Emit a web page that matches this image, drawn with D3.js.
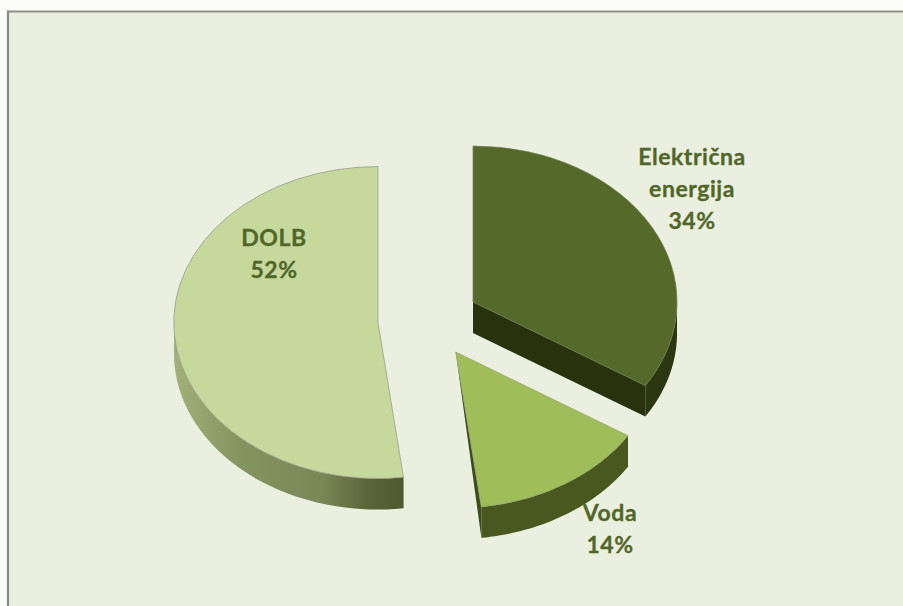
<!DOCTYPE html>
<html>
<head>
<meta charset="utf-8">
<script src="https://cdn.jsdelivr.net/npm/d3@7"></script>
<style>
  html, body { margin: 0; padding: 0; background: #fcfcf8; }
  svg { display: block; }
  text { font-family: Lato, "Open Sans", sans-serif; font-weight: 700; }
</style>
</head>
<body>
<svg id="chart" width="903" height="606"></svg>
<script>
// Energy sources, share of the total in percent
const categories = ["Električna energija", "Voda", "DOLB"];
const shares = [34, 14, 52];
const labelLines = [["Električna", "energija", "34%"], ["Voda", "14%"], ["DOLB", "52%"]];
const topColors = ["#55692a", "#9fbe5a", "#c6d89c"];
const edgeColors = ["#6b7a4e", "#8f9f6a", "#8f9689"];
const wallColors = ["#2b3710", "#48581f", "#5a6438"];
const labelAnchors = [[692, 159], [610, 515], [274, 240]];

const svg = d3.select("#chart");
const W = 903, H = 606;
const cx = 428.6, cy = 320.2;     // pie centre before the slices are pulled apart
const rx = 204, ry = 156;         // tilted pie: circle squashed to an ellipse
const depth = 31;                 // thickness of the disc
const pull = 50.7, pullTilt = 0.745;

// Panel fill, with a frame whose top and left edges fall inside the page
svg.append("rect").attr("x", 8).attr("y", 11.5).attr("width", W - 8).attr("height", H - 11.5)
  .attr("fill", "#ebefdf");
svg.append("line").attr("x1", 7).attr("x2", W).attr("y1", 11.5).attr("y2", 11.5)
  .attr("stroke", "#8d8f88").attr("stroke-width", 2.2);
svg.append("line").attr("x1", 8).attr("x2", 8).attr("y1", 10.5).attr("y2", H)
  .attr("stroke", "#888a86").attr("stroke-width", 2.2);

const defs = svg.append("defs");
// Wall shading runs in the slice's own coordinates, left rim to closing edge
const wallGrad = defs.append("linearGradient").attr("id", "dolbWall")
  .attr("gradientUnits", "userSpaceOnUse").attr("x1", -rx).attr("x2", 24).attr("y1", 0).attr("y2", 0);
wallGrad.append("stop").attr("offset", 0).attr("stop-color", "#a2b07a");
wallGrad.append("stop").attr("offset", 0.3).attr("stop-color", "#84945f");
wallGrad.append("stop").attr("offset", 0.65).attr("stop-color", "#7a8757");
wallGrad.append("stop").attr("offset", 0.85).attr("stop-color", "#5b6539");
wallGrad.append("stop").attr("offset", 1).attr("stop-color", "#505a30");

const pie = d3.pie().sort(null).value(d => d);
const slices = pie(shares);

// Angle measured clockwise from 12 o'clock; x,y on the tilted ellipse
const sx = a => rx * Math.sin(a);
const sy = a => -ry * Math.cos(a);
const offset = s => {
  const m = (s.startAngle + s.endAngle) / 2;
  return [cx + pull * Math.sin(m), cy - pull * pullTilt * Math.cos(m)];
};

// Outer wall between two angles, traced along the rim with a sampled curve
const line = d3.line();
function rimWall(a0, a1) {
  const n = 40;
  const top = d3.range(n + 1).map(i => {
    const a = a0 + (a1 - a0) * i / n;
    return [sx(a), sy(a)];
  });
  const bottom = top.slice().reverse().map(p => [p[0], p[1] + depth]);
  return line(top.concat(bottom)) + "Z";
}

const order = [2, 0, 1];
const layer = svg.selectAll("g.slice").data(order.map(i => ({ s: slices[i], i }))).join("g")
  .attr("class", "slice")
  .attr("transform", d => `translate(${offset(d.s)})`);

layer.each(function ({ s, i }) {
  const g = d3.select(this);
  const wall = i === 2 ? "url(#dolbWall)" : wallColors[i];
  const a0 = Math.max(s.startAngle, Math.PI / 2);
  const a1 = Math.min(s.endAngle, Math.PI * 1.5);
  const ex = sx(s.endAngle), ey = sy(s.endAngle);

  // Cut face on the closing radius, for slices that turn toward the viewer
  if (i === 0) {
    g.append("path").attr("fill", "#28330e")
      .attr("d", line([[0, 0], [ex, ey], [ex, ey + depth], [0, depth]]) + "Z");
  }
  if (i === 1) {
    g.append("path").attr("fill", "#3d4c1c")
      .attr("d", line([[0, 0], [ex, ey], [ex, ey + depth]]) + "Z");
  }
  g.append("path").attr("fill", wall).attr("d", rimWall(a0, a1));

  // Top face: unit-less arc scaled into the tilted ellipse
  g.append("path")
    .attr("transform", `scale(${rx},${ry})`)
    .attr("d", d3.arc().innerRadius(0).outerRadius(1)(s))
    .attr("fill", topColors[i])
    .attr("stroke", edgeColors[i]).attr("stroke-opacity", 0.7)
    .attr("vector-effect", "non-scaling-stroke")
    .attr("stroke-width", 1);
});

// Category and percentage labels
const lineGap = 32;
svg.selectAll("g.label").data(labelLines).join("g").attr("class", "label")
  .each(function (lines, i) {
    d3.select(this).selectAll("text").data(lines).join("text")
      .attr("x", labelAnchors[i][0])
      .attr("y", (d, j) => labelAnchors[i][1] + j * lineGap)
      .attr("text-anchor", "middle")
      .attr("font-size", 23)
      .attr("letter-spacing", 0.55)
      .attr("fill", "#516728")
      .attr("stroke", "#516728")
      .attr("stroke-width", 0.3)
      .attr("dominant-baseline", "middle")
      .text(d => d);
  });
</script>
</body>
</html>
